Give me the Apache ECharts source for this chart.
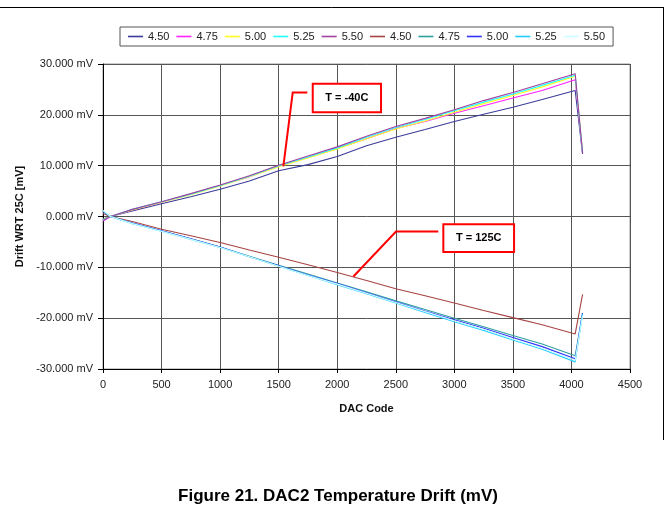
<!DOCTYPE html>
<html>
<head>
<meta charset="utf-8">
<script src="https://cdn.jsdelivr.net/npm/echarts@6/dist/echarts.min.js"></script>
<style>
html,body{margin:0;padding:0;background:#fff;}
#c{width:669px;height:508px;}
</style>
</head>
<body>
<div id="c"></div>
<script>
// DAC codes
const codes = [0, 64, 250, 500, 750, 1000, 1250, 1500, 1750, 2000, 2250, 2500, 2750, 3000, 3250, 3500, 3750, 4032, 4095];

// T = -40C
const cold450 = [-0.5, 0, 1.1, 2.5, 3.9, 5.35, 7.0, 9.0, 10.2, 11.8, 13.9, 15.6, 17.1, 18.7, 20.1, 21.5, 23.0, 24.8, 12.3];
const cold475 = [-0.9, 0, 1.3, 2.8, 4.4, 6.1, 7.8, 9.9, 11.6, 13.4, 15.3, 17.3, 18.7, 20.3, 21.8, 23.3, 24.8, 26.9, 12.5];
const cold500 = [-0.6, 0, 1.3, 2.8, 4.3, 6.0, 7.8, 9.8, 11.5, 13.3, 15.3, 17.2, 18.8, 20.5, 22.2, 23.8, 25.5, 27.6, 12.6];
const cold525 = [-0.7, 0, 1.4, 2.9, 4.4, 6.1, 7.9, 10.0, 11.7, 13.5, 15.6, 17.5, 19.1, 20.8, 22.5, 24.1, 25.8, 27.8, 12.5];
const cold550 = [-0.8, 0, 1.4, 2.9, 4.5, 6.2, 8.0, 10.1, 11.9, 13.7, 15.8, 17.7, 19.3, 21.0, 22.8, 24.4, 26.1, 28.1, 12.5];

// T = 125C
const hot450 = [0.6, 0, -1.0, -2.5, -3.8, -5.1, -6.6, -8.0, -9.5, -11.0, -12.6, -14.2, -15.6, -17.0, -18.5, -19.9, -21.3, -23.1, -15.3];
const hot475 = [1.0, 0, -1.3, -2.8, -4.4, -6.0, -7.8, -9.6, -11.3, -13.1, -14.8, -16.6, -18.3, -20.0, -21.7, -23.4, -25.1, -27.4, -19.0];
const hot500 = [1.0, 0, -1.3, -2.8, -4.4, -6.0, -7.9, -9.7, -11.5, -13.2, -15.0, -16.8, -18.6, -20.3, -22.0, -23.8, -25.6, -28.0, -19.0];
const hot525 = [1.1, 0, -1.4, -2.9, -4.5, -6.1, -7.9, -9.8, -11.6, -13.4, -15.2, -17.0, -18.9, -20.7, -22.4, -24.3, -26.1, -28.6, -19.2];
const hot550 = [1.2, 0, -1.4, -2.9, -4.5, -6.1, -7.9, -9.8, -11.6, -13.3, -15.1, -16.9, -18.7, -20.5, -22.2, -24.1, -25.9, -28.3, -19.5];

const seriesNames = ['4.50', '4.75', '5.00', '5.25', '5.50', '4.50', '4.75', '5.00', '5.25', '5.50'];
const seriesData = [cold450, cold475, cold500, cold525, cold550, hot450, hot475, hot500, hot525, hot550];
const colors = ['#3c3c9c', '#ff22ff', '#ffff22', '#22ffff', '#a040a0', '#a84444', '#2f9f9f', '#3333ff', '#22ccff', '#ccffff'];

// annotation anchors (data coordinates)
const coldLabel = 'T = -40C';
const coldBox = [[1791, 26.1], [2374, 20.5]];
const coldLeader = [[1745, 24.4], [1620, 24.4], [1540, 9.85]];
const hotLabel = 'T = 125C';
const hotBox = [[2906, -1.5], [3510, -7.0]];
const hotLeader = [[2863, -2.95], [2502, -2.95], [2138, -11.8]];

const FONT = '"Liberation Sans", Arial, sans-serif';
const chart = echarts.init(document.getElementById('c'));

const series = seriesData.map((d, i) => ({
  name: i + '|' + seriesNames[i],
  type: 'line',
  data: codes.map((c, k) => [c, d[k]]),
  symbol: 'none',
  showSymbol: false,
  animation: false,
  lineStyle: { width: 1.1, color: colors[i] },
  itemStyle: { color: colors[i] },
  z: 2
}));

chart.setOption({
  animation: false,
  textStyle: { fontFamily: FONT },
  color: colors,
  grid: { left: 103, right: 39, top: 64, bottom: 139, show: true, borderColor: '#999', borderWidth: 1 },
  legend: {
    top: 27, left: 120,
    formatter: n => n.split('|')[1],
    icon: 'rect',
    itemWidth: 15, itemHeight: 1.6, itemGap: 7,
    padding: [4, 8],
    borderColor: '#555', borderWidth: 1,
    textStyle: { fontSize: 11, color: '#222', fontFamily: FONT }
  },
  xAxis: {
    type: 'value', min: 0, max: 4500, interval: 500,
    name: 'DAC Code', nameLocation: 'middle', nameGap: 34,
    nameTextStyle: { fontSize: 11, fontWeight: 'bold', color: '#111', fontFamily: FONT },
    axisLine: { onZero: false, lineStyle: { color: '#000', width: 1 } },
    axisTick: { show: true, length: 4, lineStyle: { color: '#000' } },
    axisLabel: { fontSize: 11, color: '#222', margin: 10, fontFamily: FONT, formatter: v => String(v) },
    splitLine: { show: true, lineStyle: { color: '#555', width: 1 } }
  },
  yAxis: {
    type: 'value', min: -30, max: 30, interval: 10,
    name: 'Drift WRT 25C [mV]', nameLocation: 'middle', nameGap: 77, nameRotate: 90,
    nameTextStyle: { fontSize: 11, fontWeight: 'bold', color: '#111', fontFamily: FONT },
    axisLine: { show: true, onZero: false, lineStyle: { color: '#000', width: 1 } },
    axisTick: { show: true, length: 5, lineStyle: { color: '#000' } },
    axisLabel: { fontSize: 11, color: '#222', margin: 10, fontFamily: FONT, formatter: v => v.toFixed(3) + ' mV' },
    splitLine: { show: true, lineStyle: { color: '#555', width: 1 } }
  },
  series: series
});

function px(p) { return chart.convertToPixel({ gridIndex: 0 }, p); }
function annot(label, box, leader) {
  const a = px(box[0]), b = px(box[1]);
  const pts = leader.map(px);
  return [
    { type: 'polyline', shape: { points: pts }, style: { stroke: '#ff0000', lineWidth: 2, fill: null }, z: 10 },
    { type: 'rect', shape: { x: a[0], y: a[1], width: b[0] - a[0], height: b[1] - a[1] },
      style: { fill: '#fff', stroke: '#ff0000', lineWidth: 2 }, z: 10 },
    { type: 'text', x: (a[0] + b[0]) / 2, y: (a[1] + b[1]) / 2,
      style: { text: label, fill: '#000', font: 'bold 11px ' + FONT, align: 'center', verticalAlign: 'middle' }, z: 11 }
  ];
}

chart.setOption({
  graphic: [
    { type: 'line', shape: { x1: 0, y1: 7.5, x2: 663.5, y2: 7.5 }, style: { stroke: '#000', lineWidth: 1 } },
    { type: 'line', shape: { x1: 663.5, y1: 7, x2: 663.5, y2: 440 }, style: { stroke: '#000', lineWidth: 1 } },
    ...annot(coldLabel, coldBox, coldLeader),
    ...annot(hotLabel, hotBox, hotLeader),
    { type: 'text', x: 338, y: 496,
      style: { text: 'Figure 21. DAC2 Temperature Drift (mV)', fill: '#000', font: 'bold 17px ' + FONT, align: 'center', verticalAlign: 'middle' } }
  ]
});
</script>
</body>
</html>
